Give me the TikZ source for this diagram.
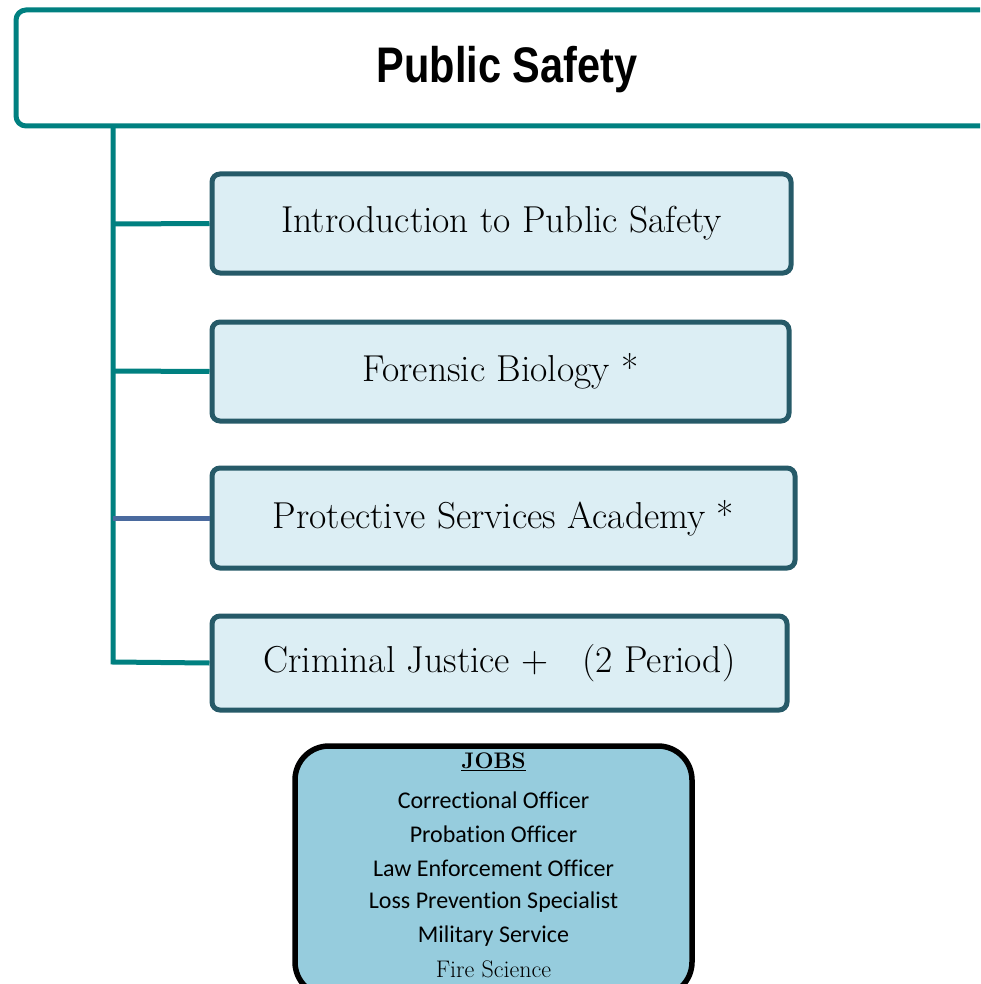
\documentclass[tikz,border=0pt]{standalone}
\usepackage{fontspec}
\usepackage{graphicx}
\newfontfamily\titlefont{Liberation Sans}
\newfontfamily\jobfont[Ligatures=CommonOff]{Carlito}
\definecolor{teal1}{HTML}{008080}
\definecolor{slate1}{HTML}{265A68}
\definecolor{boxfill}{HTML}{DCEEF4}
\definecolor{jobfill}{HTML}{96CCDD}
\definecolor{blueline}{HTML}{4A6A9E}
\tikzset{
  coursebox/.style={draw=slate1, line width=5pt, fill=boxfill, rounded corners=8pt, inner sep=0pt, font=\fontsize{37.5}{42}\selectfont},
  trunk/.style={draw=teal1, line width=5pt},
  jobline/.style={font=\jobfont\fontsize{24}{27}\selectfont, inner sep=0pt}
}
\begin{document}
\begin{tikzpicture}[x=1pt,y=-1pt]
\useasboundingbox (0,0) rectangle (980,984);
\clip (0,0) rectangle (980,984);
\fill[white] (0,0) rectangle (980,984);
% title
\node[draw=teal1, line width=5pt, fill=white, rounded corners=10pt, minimum width=982pt, minimum height=116pt, inner sep=0pt] (title) at (507,68) {};
\node (titletext) at (507,70) {\titlefont\bfseries\fontsize{50}{54}\selectfont\scalebox{0.83}[1]{Public Safety}};
% trunk
\coordinate (trunktop) at (113,126);
\coordinate (trunkbot) at (113,662);
% course boxes
\node[coursebox, minimum width=579pt, minimum height=99pt] (c1) at (501.5,223.5) {Introduction to Public Safety};
\node[coursebox, minimum width=577pt, minimum height=99pt] (c2) at (500.5,371.5) {Forensic Biology *};
\node[coursebox, minimum width=583pt, minimum height=100pt] (c3) at (503.5,518) {Protective Services Academy *};
\node[coursebox, minimum width=575pt, minimum height=94pt] (c4) at (499.5,663) {Criminal Justice +\ \ \ (2 Period)};
\draw[trunk] (trunktop) -- (trunkbot) -- (c4.west);
\coordinate (b1) at (113,224);
\coordinate (b2) at (113,371);
\coordinate (b3) at (113,518);
\draw[trunk] (b1) -- (c1.west);
\draw[trunk] (b2) -- (c2.west);
\draw[draw=blueline, line width=5pt] (b3) -- (c3.west);
% jobs box
\node[draw=black, line width=5.5pt, fill=jobfill, rounded corners=34pt, minimum width=397pt, minimum height=250pt, inner sep=0pt] (jobs) at (493.5,871) {};
\node[inner sep=0pt, font=\bfseries\fontsize{22.5}{26}\selectfont] (jobstitle) at (493.5,762) {\underline{JOBS}};
\node[jobline] (j1) at (493.5,800) {Correctional Officer};
\node[jobline] (j2) at (493.5,834) {Probation Officer};
\node[jobline] (j3) at (493.5,868) {Law Enforcement Officer};
\node[jobline] (j4) at (493.5,902) {Loss Prevention Specialist};
\node[jobline] (j5) at (493.5,936) {Military Service};
\node[inner sep=0pt, font=\fontsize{24}{27}\selectfont] (j6) at (493.5,969) {Fire Science};
\end{tikzpicture}
\end{document}
